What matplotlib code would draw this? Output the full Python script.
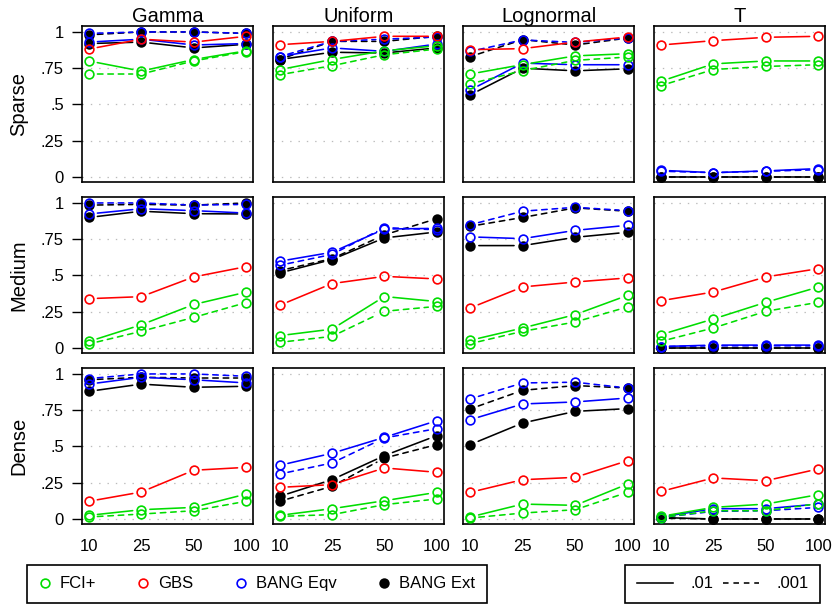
"""Power curves of FCI+, GBS and BANG across error distributions and graph densities."""

import matplotlib

matplotlib.use("Agg")
import matplotlib.pyplot as plt
import numpy as np
from matplotlib.lines import Line2D

DISTRIBUTIONS = ["Gamma", "Uniform", "Lognormal", "T"]
DENSITIES = ["Sparse", "Medium", "Dense"]
SAMPLE_SIZES = ["10", "25", "50", "100"]
Y_TICKS = [0, 0.25, 0.5, 0.75, 1]
Y_TICK_LABELS = ["0", ".25", ".5", ".75", "1"]

# every table: [density][distribution][sample size]
FCI_01 = [
    [[.80, .73, .81, .87], [.74, .81, .87, .905], [.71, .775, .835, .85], [.66, .78, .80, .80]],
    [[.045, .16, .30, .385], [.085, .13, .355, .32], [.053, .138, .23, .363], [.092, .20, .315, .42]],
    [[.025, .064, .08, .172], [.025, .071, .126, .184], [.014, .103, .094, .241], [.018, .08, .103, .168]],
]
FCI_001 = [
    [[.71, .71, .80, .865], [.705, .767, .843, .882], [.642, .734, .804, .827], [.63, .741, .762, .774]],
    [[.028, .115, .211, .313], [.039, .08, .253, .287], [.03, .115, .179, .283], [.046, .138, .253, .315]],
    [[.014, .034, .057, .122], [.018, .03, .099, .138], [.007, .041, .064, .184], [.01, .057, .057, .106]],
]
GBS_01 = [
    [[.882, .95, .93, .97], [.912, .935, .97, .97], [.878, .885, .93, .965], [.91, .94, .963, .97]],
    [[.34, .354, .49, .561], [.294, .444, .494, .476], [.276, .421, .455, .483], [.326, .386, .49, .547]],
    [[.122, .186, .336, .356], [.218, .237, .352, .322], [.184, .271, .287, .402], [.19, .283, .264, .345]],
]
EQV_01 = [
    [[.93, .95, .91, .92], [.83, .89, .866, .917], [.60, .785, .774, .774], [.046, .03, .042, .058]],
    [[.924, .96, .947, .93], [.598, .66, .82, .825], [.766, .754, .811, .846], [.01, .02, .02, .02]],
    [[.93, .977, .96, .938], [.37, .453, .563, .678], [.685, .793, .807, .834], [.014, .071, .071, .103]],
]
EQV_001 = [
    [[.99, 1.0, 1.0, .99], [.83, .935, .95, .965], [.866, .945, .928, .958], [.04, .03, .04, .05]],
    [[1.0, 1.0, .985, .99], [.57, .645, .83, .815], [.85, .943, .97, .947], [.01, .015, .015, .015]],
    [[.968, 1.0, 1.0, .984], [.31, .386, .559, .623], [.828, .938, .943, .903], [.01, .053, .057, .08]],
]
EXT_01 = [
    [[.92, .93, .89, .915], [.81, .86, .855, .89], [.566, .75, .732, .746], [0, 0, 0, 0]],
    [[.90, .943, .926, .924], [.517, .61, .759, .80], [.706, .706, .763, .798], [0, 0, 0, 0]],
    [[.88, .93, .908, .915], [.156, .271, .437, .575], [.513, .662, .742, .761], [.01, 0, 0, 0]],
]
EXT_001 = [
    [[.98, 1.0, 1.0, .99], [.81, .935, .935, .97], [.83, .947, .91, .958], [0, 0, 0, 0]],
    [[.985, .99, .985, 1.0], [.533, .616, .78, .892], [.839, .90, .966, .943], [0, 0, 0, 0]],
    [[.96, .977, .972, .972], [.122, .225, .42, .513], [.759, .887, .92, .903], [.005, 0, 0, 0]],
]

GREEN, RED, BLUE, BLACK = "#00DD00", "#FF0000", "#0000FF", "#000000"
DASH = (0, (4, 3.5))
MS, MEW, LW, GAP = 6.3, 1.2, 1.15, 6.2

# drawing order: black first so the open circles sit on top
SERIES = [
    (EXT_01, BLACK, "-", True),
    (EXT_001, BLACK, DASH, True),
    (EQV_01, BLUE, "-", False),
    (EQV_001, BLUE, DASH, False),
    (GBS_01, RED, "-", False),
    (FCI_01, GREEN, "-", False),
    (FCI_001, GREEN, DASH, False),
]

plt.rcParams["font.family"] = ["Liberation Sans", "DejaVu Sans"]
plt.rcParams["lines.scale_dashes"] = False


def draw_series(ax, values, color, style, filled):
    # type="b" look: segments stop short of each point
    xs = np.arange(len(values))
    for i in range(len(values) - 1):
        ax.annotate("", xy=(xs[i + 1], values[i + 1]), xytext=(xs[i], values[i]),
                    arrowprops=dict(arrowstyle="-", color=color, lw=LW, linestyle=style,
                                    shrinkA=GAP, shrinkB=GAP))
    ax.plot(xs, values, ls="none", marker="o", ms=MS, mew=MEW, mec=color,
            mfc=color if filled else "none", clip_on=False, zorder=3)


fig = plt.figure(figsize=(8.35, 6.05), dpi=100)
W, H = 835, 605
for r, density in enumerate(DENSITIES):
    for c, dist in enumerate(DISTRIBUTIONS):
        left = 82 + 190.7 * c
        top = 26 + 171 * r
        ax = fig.add_axes([left / W, 1 - (top + 156) / H, 171 / W, 156 / H])
        for table, color, style, filled in SERIES:
            draw_series(ax, table[r][c], color, style, filled)
        ax.set_xlim(-0.13, 3.13)
        ax.set_ylim(-0.0345, 1.041)
        ax.set_yticks(Y_TICKS)
        ax.set_yticklabels(Y_TICK_LABELS)
        ax.set_xticks(range(len(SAMPLE_SIZES)))
        ax.set_xticklabels(SAMPLE_SIZES)
        ax.yaxis.grid(True, linestyle=(0, (1, 5)), color="#BBBBBB", lw=0.9)
        ax.tick_params(axis="y", left=(c == 0), labelleft=(c == 0), length=7, width=1,
                       pad=6, labelsize=12)
        ax.tick_params(axis="x", bottom=False, labelbottom=(r == 2), length=0, pad=11,
                       labelsize=12)
        for sp in ax.spines.values():
            sp.set_linewidth(1.2)
        if r == 0:
            ax.set_title(dist, fontsize=14.5, pad=3)
        if c == 0:
            fig.text(19 / W, 1 - (top + 78) / H, density, rotation=90, ha="center",
                     va="center", fontsize=14.5)

method_handles = [
    Line2D([], [], ls="none", marker="o", ms=MS, mew=MEW, mec=GREEN, mfc="none"),
    Line2D([], [], ls="none", marker="o", ms=MS, mew=MEW, mec=RED, mfc="none"),
    Line2D([], [], ls="none", marker="o", ms=MS, mew=MEW, mec=BLUE, mfc="none"),
    Line2D([], [], ls="none", marker="o", ms=MS, mew=MEW, mec=BLACK, mfc=BLACK),
]
leg1 = fig.legend(method_handles, ["FCI+", "GBS", "BANG Eqv", "BANG Ext"], ncol=4,
                  loc="lower left", bbox_to_anchor=(27 / W, 2 / H, 460 / W, 40 / H),
                  mode="expand", fontsize=12, frameon=True, fancybox=False,
                  edgecolor="black", framealpha=1, borderaxespad=0, borderpad=0.7,
                  handlelength=0.7, handletextpad=0.55)
leg1.get_frame().set_linewidth(1.2)

alpha_handles = [
    Line2D([], [], color=BLACK, lw=LW, ls="-"),
    Line2D([], [], color=BLACK, lw=LW, ls=DASH),
]
leg2 = fig.legend(alpha_handles, [".01", ".001"], ncol=2,
                  loc="lower left", bbox_to_anchor=(625 / W, 2 / H, 195 / W, 40 / H),
                  mode="expand", fontsize=12, frameon=True, fancybox=False,
                  edgecolor="black", framealpha=1, borderaxespad=0, borderpad=0.7,
                  handlelength=2.2, handletextpad=1.0)
leg2.get_frame().set_linewidth(1.2)

fig.savefig("out.png", dpi=100)
